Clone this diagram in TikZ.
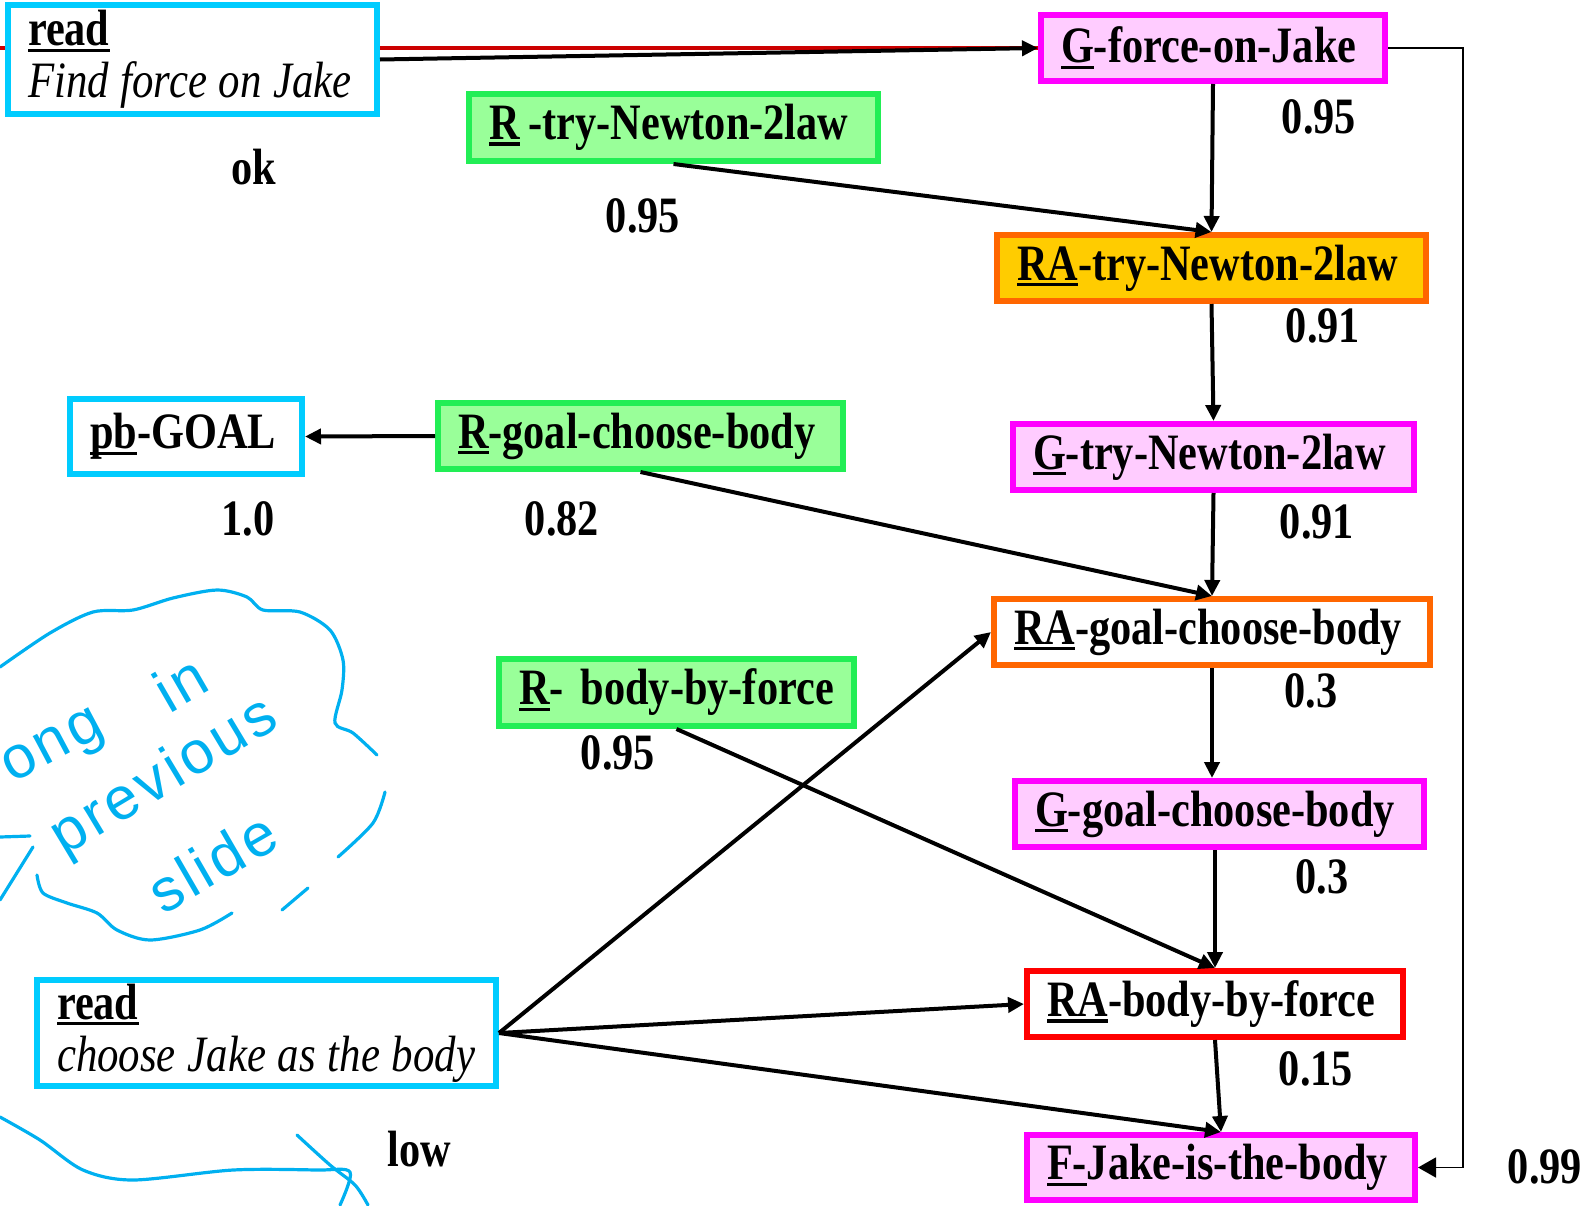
\documentclass[tikz,border=0pt]{standalone}
\usepackage{fontspec}
\setmainfont{Liberation Serif}[UprightFeatures={FakeStretch=0.83}, BoldFeatures={FakeStretch=0.83}, ItalicFeatures={FakeStretch=0.84}, BoldItalicFeatures={FakeStretch=0.83}]
\newfontfamily\handfont{Liberation Sans}[LetterSpace=6]
\usetikzlibrary{arrows.meta}
\definecolor{SlCyan}{HTML}{00CCFF}
\definecolor{SlMagenta}{HTML}{FF00FF}
\definecolor{SlPink}{HTML}{FFCCFF}
\definecolor{SlGreen}{HTML}{22EE55}
\definecolor{SlLime}{HTML}{99FF99}
\definecolor{SlOrange}{HTML}{FF6600}
\definecolor{SlGold}{HTML}{FFCC00}
\definecolor{SlRed}{HTML}{FF0000}
\definecolor{SlDarkRed}{HTML}{CC0000}
\definecolor{SlInk}{HTML}{00B0F0}
\pgfdeclarelayer{back}
\pgfsetlayers{back,main}
\newcommand\ulbit[1]{\leavevmode\setbox0\hbox{#1}\rlap{\rule[-0.12em]{\wd0}{0.065em}}\box0\relax}
\newcommand\rdline[1]{\mdseries\itshape\spaceskip=0.23em\relax\mbox{#1}}
\tikzset{
  txt/.style={font=\bfseries\fontsize{25.5}{26}\selectfont},
  box/.style={txt, line width=3pt, inner xsep=10pt, inner ysep=0pt, align=left},
  wh/.style 2 args={minimum width=#1, text width=#1-20pt, minimum height=#2},
  readbox/.style={box, draw=SlCyan, fill=white},
  goalbox/.style={box, draw=SlMagenta, fill=SlPink},
  rulebox/.style={box, draw=SlGreen, fill=SlLime},
  appbox/.style={box, draw=SlOrange, fill=#1},
  arr/.style={line width=2pt, -{Triangle[length=8pt,width=7.5pt]}},
  thinarr/.style={line width=0.8pt, -{Triangle[length=9pt,width=10pt]}},
  num/.style={txt, inner sep=0pt},
  hand/.style={SlInk, line width=1.6pt, line cap=round, line join=round},
  handtxt/.style={SlInk, inner sep=0pt, font=\handfont\fontsize{30}{30}\selectfont}
}
\begin{document}
\begin{tikzpicture}[x=0.5pt,y=-0.5pt]
\useasboundingbox (0,0) rectangle (1589,1205);
% nodes
\node[readbox, wh={184.5pt}{54.5pt}] (read1) at (192.5,59.5) {\ulbit{read}\\ \rdline{Find force on Jake}};
\node[goalbox, wh={172pt}{33pt}] (gforce) at (1213,48) {\ulbit{G}-force-on-Jake};
\node[rulebox, wh={204.5pt}{33.5pt}] (rtry) at (673.5,127.5) {\ulbit{R}\hspace{0.18em}-try-Newton-2law};
\node[appbox=SlGold, wh={214.5pt}{33pt}] (ratry) at (1211.5,268) {\ulbit{RA}-try-Newton-2law};
\node[readbox, wh={116pt}{37.5pt}] (pbgoal) at (186,436.5) {\ulbit{pb}-GOAL};
\node[rulebox, wh={202.5pt}{33pt}] (rgoal) at (640.5,436) {\ulbit{R}-goal-choose-body};
\node[goalbox, wh={200.5pt}{33pt}] (gtry) at (1213.5,457) {\ulbit{G}-try-Newton-2law};
\node[appbox=white, wh={218pt}{33pt}] (ragoal) at (1212,632) {\ulbit{RA}-goal-choose-body};
\node[rulebox, wh={177.5pt}{33.5pt}] (rbody) at (676.5,692.5) {\ulbit{R}- body-by-force};
\node[goalbox, wh={204.5pt}{33pt}] (ggoal) at (1219.5,814) {\ulbit{G}-goal-choose-body};
\node[readbox, wh={229.5pt}{53pt}] (read2) at (266.5,1033) {\ulbit{read}\\ \rdline{choose Jake as the body}};
\node[box, draw=SlRed, fill=white, wh={188pt}{33pt}] (rabody) at (1215,1004) {\ulbit{RA}-body-by-force};
\node[goalbox, wh={194pt}{32.5pt}] (fjake) at (1221,1167.5) {\ulbit{F-}Jake-is-the-body};
% numbers
\node[num] (lok) at (254,167) {ok};
\node[num] (lgforce) at (1319,117) {0.95};
\node[num] (lrtry) at (643,216) {0.95};
\node[num] (lratry) at (1323,326) {0.91};
\node[num] (lpb) at (248,519) {1.0};
\node[num] (lrgoal) at (562,519) {0.82};
\node[num] (lgtry) at (1317,522) {0.91};
\node[num] (lragoal) at (1311,691) {0.3};
\node[num] (lrbody) at (618,753) {0.95};
\node[num] (lggoal) at (1322,877) {0.3};
\node[num] (lrabody) at (1316,1069) {0.15};
\node[num] (llow) at (419,1149) {low};
\node[num] (lfjake) at (1545,1167) {0.99};
% links
\coordinate (redin) at (0,48);
\begin{pgfonlayer}{back}
\draw[SlDarkRed, line width=2pt] (redin) -- (gforce.west);
\end{pgfonlayer}
\draw[arr] (read1.east) -- (gforce.west);
\draw[arr] (gforce.south) -- (ratry.north);
\draw[arr] (rtry.south) -- (ratry.north);
\draw[arr] (ratry.south) -- (gtry.north);
\draw[arr] (gtry.south) -- (ragoal.north);
\draw[arr] (rgoal.south) -- (ragoal.north);
\draw[arr] (rgoal.west) -- (pbgoal.east);
\draw[arr] (ragoal.south) -- (ragoal.south |- ggoal.north);
\draw[arr] (rabody.north |- ggoal.south) -- (rabody.north);
\draw[arr] (rbody.south) -- (rabody.north);
\draw[arr] (read2.east) -- (ragoal.west);
\draw[arr] (read2.east) -- (rabody.west);
\draw[arr] (read2.east) -- (fjake.north);
\draw[arr] (rabody.south) -- (fjake.north);
\draw[thinarr] (gforce.east) -- ++(75,0) |- (fjake.east);
% pen note
\draw[hand] plot[smooth] coordinates {(0,667) (50,633) (93,612) (133,610) (173,598) (217,590) (247,597) (263,610) (300,612) (330,630) (343,660) (342,690) (335,723) (353,733) (377,755)};
\draw[hand] plot[smooth] coordinates {(385,792) (373,823) (338,857)};
\draw[hand] plot[smooth] coordinates {(308,888) (282,910)};
\draw[hand] plot[smooth] coordinates {(232,913) (200,930) (150,940) (117,930) (97,913) (67,903) (43,893) (37,875)};
\draw[hand] plot[smooth] coordinates {(0,837) (30,836)};
\draw[hand] plot[smooth] coordinates {(33,847) (0,900)};
\draw[hand] plot[smooth] coordinates {(0,1117) (40,1140) (83,1170) (133,1180) (233,1170) (317,1170) (350,1172) (340,1205)};
\draw[hand] plot[smooth] coordinates {(297,1135) (330,1165) (355,1185) (368,1205)};
\node[handtxt, rotate=28] (hong) at (55,750) {ong};
\node[handtxt, rotate=30] (hin) at (180,683) {in};
\node[handtxt, rotate=31] (hprev) at (165,778) {previous};
\node[handtxt, rotate=30] (hslide) at (212,862) {slide};
\end{tikzpicture}
\end{document}
